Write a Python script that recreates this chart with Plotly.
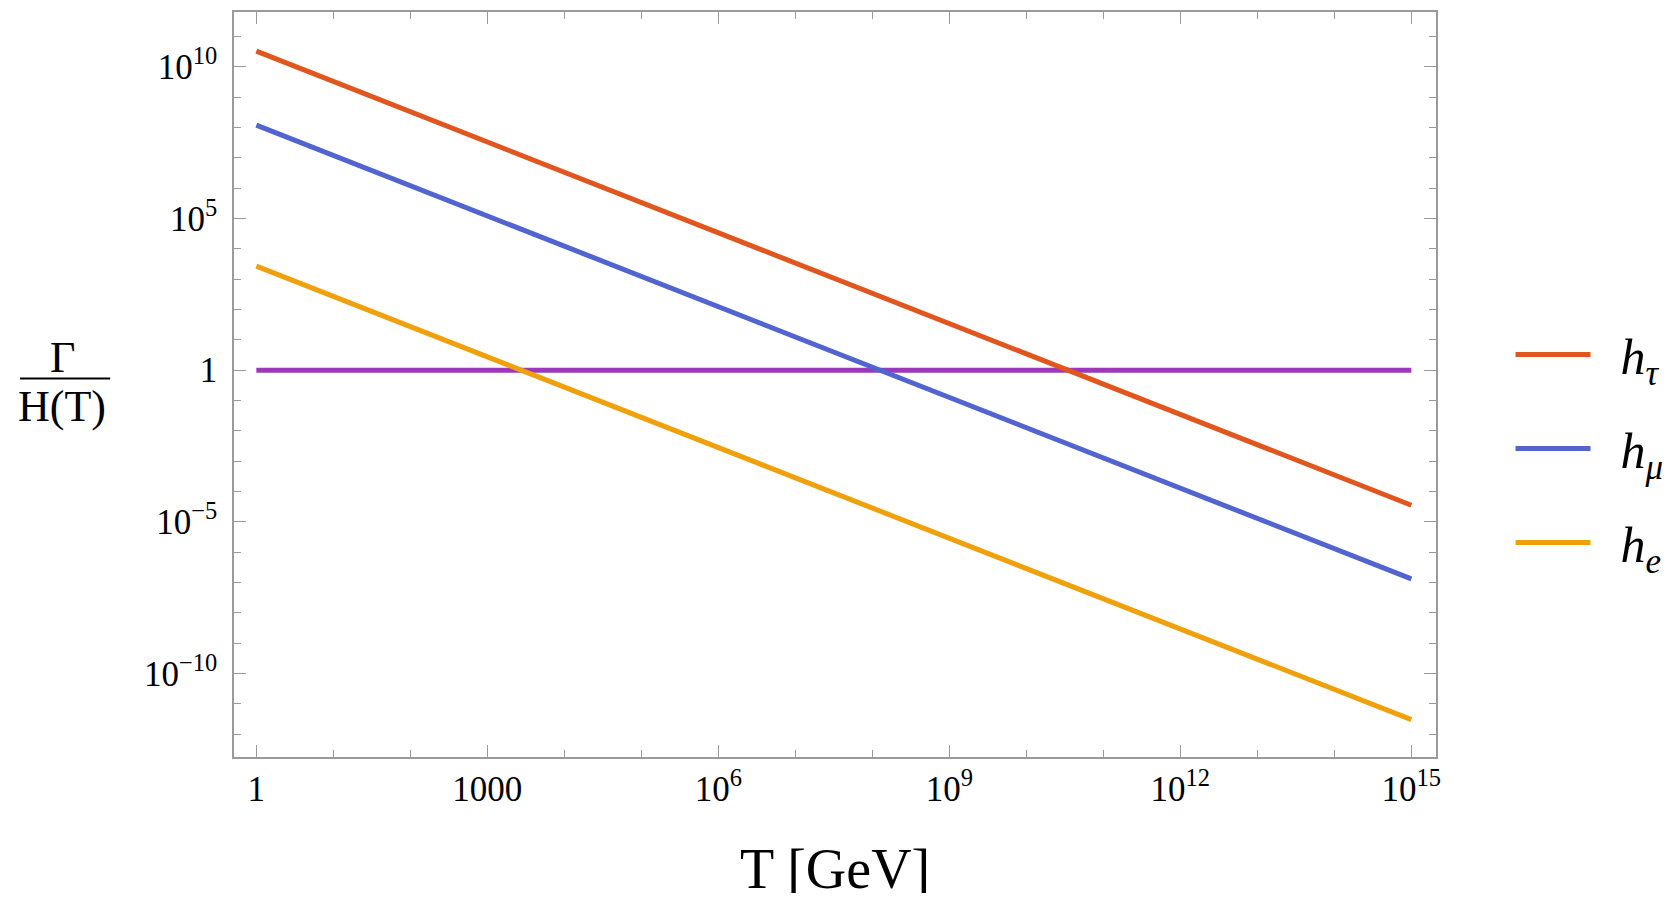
import plotly.graph_objects as go

# Data: straight lines in log-log space, endpoints
T_vals = [1, 1e15]
h_tau = [10**10.52, 10**-4.45]
h_mu = [10**8.08, 10**-6.88]
h_e = [10**3.43, 10**-11.52]
unity = [1, 1]

x_tickvals = [1, 1e3, 1e6, 1e9, 1e12, 1e15]
x_ticktext = ["1", "1000", "10<sup>6</sup>", "10<sup>9</sup>", "10<sup>12</sup>", "10<sup>15</sup>"]
y_tickvals = [1e-10, 1e-5, 1, 1e5, 1e10]
y_ticktext = ["10<sup>\u221210</sup>", "10<sup>\u22125</sup>", "1", "10<sup>5</sup>", "10<sup>10</sup>"]

x_minor = [10**k for k in range(0, 16)]
y_minor = [10**k for k in range(-12, 12)]

C_TAU = "#E0561E"
C_MU = "#5264CF"
C_E = "#F0A00A"
C_ONE = "#9C38BE"

SERIF = "Liberation Serif, Times New Roman, serif"
SP = "\u00a0\u00a0"

fig = go.Figure()
fig.add_trace(go.Scatter(x=T_vals, y=unity, mode="lines", line=dict(color=C_ONE, width=5),
                         showlegend=False, hoverinfo="skip"))
fig.add_trace(go.Scatter(x=T_vals, y=h_tau, mode="lines", line=dict(color=C_TAU, width=5),
                         name=SP + "h<sub>\u03c4</sub>", legendgroup="tau"))
fig.add_trace(go.Scatter(x=T_vals, y=h_mu, mode="lines", line=dict(color=C_MU, width=5),
                         name=SP + "h<sub>\u03bc</sub>", legendgroup="mu"))
fig.add_trace(go.Scatter(x=T_vals, y=h_e, mode="lines", line=dict(color=C_E, width=5),
                         name=SP + "h<sub>e</sub>", legendgroup="e"))

axis_common = dict(
    showgrid=False, zeroline=False, showline=True, linecolor="#9a9a9a", linewidth=1.5,
    mirror="ticks", ticks="inside", ticklen=12, tickwidth=1, tickcolor="#9a9a9a",
    tickfont=dict(family=SERIF, size=35, color="#000"),
)

fig.update_xaxes(type="log", range=[-0.29, 15.32], tickmode="array",
                 tickvals=x_tickvals, ticktext=x_ticktext,
                 minor=dict(tickmode="array", tickvals=x_minor, ticks="inside", ticklen=7,
                            tickcolor="#9a9a9a", tickwidth=1),
                 **axis_common)
fig.update_yaxes(type="log", range=[-12.75, 11.81], tickmode="array",
                 tickvals=y_tickvals, ticktext=y_ticktext, ticklabelstandoff=8,
                 minor=dict(tickmode="array", tickvals=y_minor, ticks="inside", ticklen=7,
                            tickcolor="#9a9a9a", tickwidth=1),
                 **axis_common)

# Axis titles (Mathematica-style); annotation y on the log axis is in decades
fig.add_annotation(text="T [GeV]", xref="paper", yref="paper", x=0.5, y=-0.15,
                   xanchor="center", yanchor="middle", showarrow=False,
                   font=dict(family=SERIF, size=56, color="#000"))
fig.add_annotation(text="\u0393", xref="paper", yref="y", x=-0.143, y=0.42,
                   xanchor="center", yanchor="middle", showarrow=False,
                   font=dict(family=SERIF, size=44, color="#000"))
fig.add_annotation(text="H(T)", xref="paper", yref="y", x=-0.143, y=-1.2,
                   xanchor="center", yanchor="middle", showarrow=False,
                   font=dict(family=SERIF, size=44, color="#000"))
fig.add_shape(type="line", xref="paper", yref="y", x0=-0.178, x1=-0.103,
              y0=10**-0.27, y1=10**-0.27, line=dict(color="#000", width=2))

fig.update_layout(
    width=1662, height=885,
    margin=dict(l=226, r=231, t=2, b=136),
    paper_bgcolor="white", plot_bgcolor="white",
    legend=dict(x=1.062, y=0.414, xanchor="left", yanchor="middle",
                font=dict(family=SERIF, size=50, color="#000", style="italic"),
                itemwidth=75, tracegroupgap=26, traceorder="grouped",
                bgcolor="rgba(0,0,0,0)"),
)

fig.write_html("out.html")
